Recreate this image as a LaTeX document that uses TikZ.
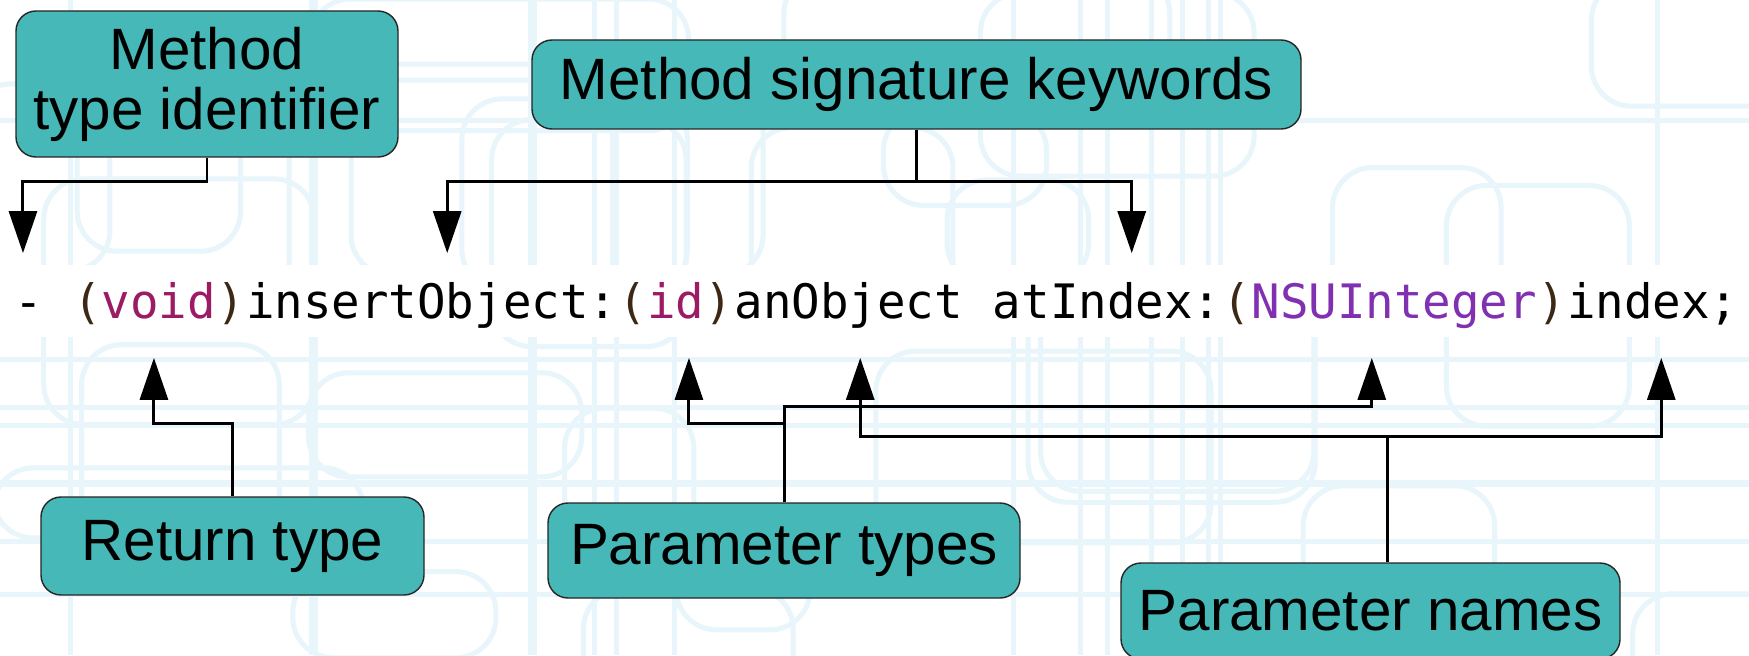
\documentclass[tikz,border=0pt]{standalone}
\usepackage{fontspec}
\newfontfamily\labelfont{Liberation Sans}
\newfontfamily\codefont{DejaVu Sans Mono}
\usetikzlibrary{arrows.meta,positioning}

\definecolor{boxteal}{RGB}{71,184,184}
\definecolor{bgblue}{RGB}{232,245,251}
\definecolor{codekw}{RGB}{155,27,100}
\definecolor{codetype}{RGB}{128,48,176}
\definecolor{codeparen}{RGB}{60,40,20}

\tikzset{
  callout/.style={draw=black!85, line width=0.4pt, fill=boxteal, rounded corners=2mm,
    align=center, inner sep=0pt, font=\labelfont\fontsize{16.6}{17.1}\selectfont},
  code/.style={inner xsep=0pt, inner ysep=2.47mm, text height=3.95mm, text depth=1.45mm,
    font=\codefont\fontsize{13.5}{16}\selectfont},
  link/.style={line width=0.85pt},
  pointer/.style={link, -{Triangle[length=4.2mm,width=2.8mm]}},
  bgline/.style={draw=bgblue, line width=0.5mm, rounded corners=4mm},
}

\begin{document}
\begin{tikzpicture}[x=0.1mm, y=0.1mm]
      \clip (0,0) rectangle (1749,-655);
      \fill[white] (0,0) rectangle (1749,-655);

      % faint circuit pattern behind everything
      \pgfmathsetseed{11}
      \foreach \i in {1,...,16}{
        \pgfmathsetmacro{\lx}{rnd*1749}
        \draw[bgline] (\lx,0) -- (\lx,-655);
      }
      \foreach \i in {1,...,9}{
        \pgfmathsetmacro{\ly}{-rnd*655}
        \draw[bgline] (0,\ly) -- (1749,\ly);
      }
      \foreach \i in {1,...,28}{
        \pgfmathsetmacro{\bx}{rnd*1700-40}
        \pgfmathsetmacro{\by}{-rnd*640+30}
        \pgfmathsetmacro{\bw}{120+rnd*320}
        \pgfmathsetmacro{\bh}{70+rnd*200}
        \draw[bgline] (\bx,\by) rectangle ++(\bw,-\bh);
      }
      \fill[white] (0,-265) rectangle (1749,-337);

      % the declaration
      \node[code, anchor=base west] (minus) at (14,-318) {-};
      \node[code, base right=2.857mm of minus] (rettype)
        {\textcolor{codeparen}{(}\textcolor{codekw}{void}\textcolor{codeparen}{)}};
      \node[code, base right=0pt of rettype] (kwinsert) {insertObject:};
      \node[code, base right=0pt of kwinsert] (ptypeA)
        {\textcolor{codeparen}{(}\textcolor{codekw}{id}\textcolor{codeparen}{)}};
      \node[code, base right=0pt of ptypeA] (pnameA) {anObject};
      \node[code, base right=2.857mm of pnameA] (kwat) {atIndex:};
      \node[code, base right=0pt of kwat] (ptypeB)
        {\textcolor{codeparen}{(}\textcolor{codetype}{NSUInteger}\textcolor{codeparen}{)}};
      \node[code, base right=0pt of ptypeB] (pnameB) {index;};

      % callouts
      \node[callout, minimum width=38.2mm, minimum height=14.6mm] (mti) at (207,-84) {Method\\type identifier};
      \node[callout, minimum width=76.9mm, minimum height=8.9mm] (msk) at (916.5,-84.5) {Method signature keywords};
      \node[callout, minimum width=38.3mm, minimum height=9.8mm] (rt) at (232.5,-546) {Return type};
      \node[callout, minimum width=47.2mm, minimum height=9.5mm] (pt) at (784,-550.5) {Parameter types};
      \node[callout, minimum width=49.9mm, minimum height=9.6mm] (pn) at (1370.5,-611) {Parameter names};

      \draw[pointer] (mti.south) -- ++(0,-24) -| ([xshift=-0.6mm]minus.north);

      \draw[link] (msk.south) -- ++(0,-52) coordinate (mskfork);
      \draw[pointer] (mskfork) -| ([xshift=1.55mm]kwinsert.north);
      \draw[pointer] (mskfork) -| ([xshift=2.45mm]kwat.north);

      \draw[pointer] (rt.north) -- ++(0,73) -| ([xshift=-0.5mm]rettype.south);

      \draw[pointer] (pt.north) -- ++(0,96) -| ([xshift=-2.25mm]ptypeB.south);
      \draw[pointer] (pt.north) -- ++(0,79) -| ([xshift=1.3mm]ptypeA.south);

      \draw[link] ([xshift=1.7mm]pn.north) -- ++(0,126) coordinate (pnfork);
      \draw[pointer] (pnfork) -| ([xshift=1.15mm]pnameA.south);
      \draw[pointer] (pnfork) -| ([xshift=0.85mm]pnameB.south);
    \end{tikzpicture}
\end{document}
